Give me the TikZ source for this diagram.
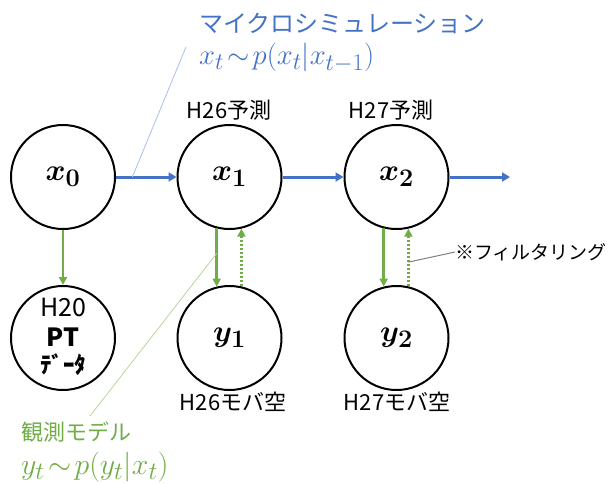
\documentclass[tikz,border=0pt]{standalone}
\usepackage{bm}
\usepackage{graphicx}
\usepackage{fontspec}
\setmainfont{Noto Sans CJK JP}
\usetikzlibrary{arrows.meta}
\definecolor{mblue}{HTML}{4472C4}
\definecolor{mgreen}{HTML}{70AD47}
\definecolor{lblue}{HTML}{A9BEE8}
\definecolor{lgreen}{HTML}{B5D69C}
\newcommand{\mymath}[2]{\scalebox{#1}{\fontsize{24.88}{28}\selectfont$#2$}}
\tikzset{
  state/.style={circle,draw=black,line width=2pt,minimum size=104pt,inner sep=0pt},
  lbl/.style={inner sep=0pt,font=\fontsize{22}{24}\selectfont},
  trans/.style={draw=mblue,line width=3pt,-{Triangle[length=8pt,width=9pt]}},
  obs/.style={draw=mgreen,line width=2.8pt,-{Triangle[length=8pt,width=8pt]}},
  filt/.style={draw=mgreen,line width=2.8pt,dash pattern=on 2pt off 2pt,-{Triangle[length=8pt,width=8pt]}}
}
\begin{document}
\begin{tikzpicture}[x=1pt,y=1pt]
\useasboundingbox (0,0) rectangle (608,-483);
% state nodes
\node[state] (x0) at (63,-177) {\mymath{1.22}{\bm{x_0}}};
\node[state] (x1) at (229.5,-177) {\mymath{1.22}{\bm{x_1}}};
\node[state] (x2) at (396.5,-177) {\mymath{1.22}{\bm{x_2}}};
\node[state] (y0) at (63,-338) {};
\node[state] (y1) at (229.5,-338) {\mymath{1.22}{\bm{y_1}}};
\node[state] (y2) at (396.5,-338) {\mymath{1.22}{\bm{y_2}}};
% text inside y0
\node[lbl,font=\fontsize{25}{27}\selectfont] (h20) at (63,-307) {H20};
\node[lbl,font=\fontsize{25}{27}\selectfont\bfseries] (pt) at (63,-337) {PT};
\node[lbl,font=\fontsize{23}{25}\selectfont\bfseries] (dt) at (63,-365) {ﾃﾞｰﾀ};
% labels
\node[lbl] (l1) at (229,-110) {H26予測};
\node[lbl] (l2) at (391,-110) {H27予測};
\node[lbl] (m1) at (233,-402) {H26モバ空};
\node[lbl] (m2) at (397,-402) {H27モバ空};
% transitions
\coordinate (xend) at (510,-177);
\draw[trans] (x0) -- coordinate[pos=0.27] (bl) (x1);
\draw[trans] (x1) -- (x2);
\draw[trans] (x2.east) -- (xend);
% observations
\draw[obs] (x0) -- (y0);
\draw[obs] (x1.-104.5) -- coordinate[pos=0.43] (gl) (y1.104.5);
\draw[obs] (x2.-104.5) -- (y2.104.5);
\draw[filt] (y1.77) -- (x1.-77);
\draw[filt] (y2.77) -- coordinate[pos=0.42] (fl) (x2.-77);
% annotations
\node[lbl,anchor=west,text=mblue,font=\fontsize{24}{26}\selectfont] (ms) at (199,-23) {マイクロシミュレーション};
\node[lbl,anchor=west,text=mblue] (mf) at (199,-58) {\mymath{1.15}{x_t\!\sim\! p(x_t|x_{t-1})}};
\coordinate (bt) at (186,-47);
\draw[lblue,line width=0.8pt] (bl) -- (bt);
\node[lbl,anchor=west,text=mgreen] (om) at (21,-432) {観測モデル};
\node[lbl,anchor=west,text=mgreen] (of) at (21,-467) {\mymath{1.2}{y_t\!\sim\! p(y_t|x_t)}};
\coordinate (gt) at (90,-416);
\draw[lgreen,line width=0.8pt] (gl) -- (gt);
\node[anchor=west,inner sep=0pt,font=\fontsize{19}{21}\selectfont] (ft) at (455,-252) {※フィルタリング};
\draw[gray,line width=1pt] (fl) -- (ft.west);
\end{tikzpicture}
\end{document}
